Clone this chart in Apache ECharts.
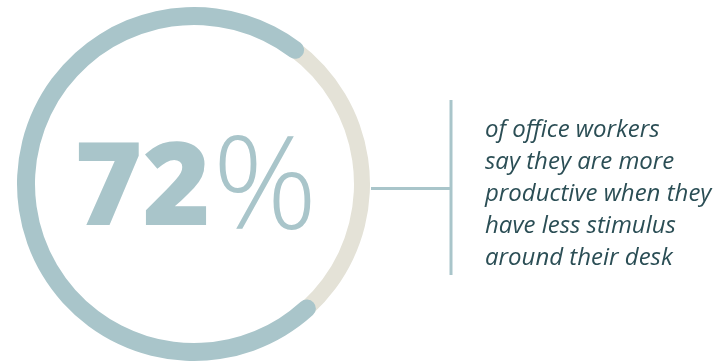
<!DOCTYPE html>
<html>
<head>
<meta charset="utf-8">
<script src="https://cdn.jsdelivr.net/npm/echarts@6/dist/echarts.min.js"></script>
<style>
  html, body { margin: 0; padding: 0; background: #ffffff; }
  #chart { width: 721px; height: 363px; }
</style>
</head>
<body>
<div id="chart"></div>
<script>
// Headline figure and its caption
const shareValues = [72];
const shareUnit = '%';
const captionLines = [
  'of office workers',
  'say they are more',
  'productive when they',
  'have less stimulus',
  'around their desk'
];

const RING_BLUE = '#a9c5ca';
const RING_SAND = '#e4e2d7';
const TEXT_DARK = '#2b4e55';

const ringCenter = [194, 184];
// Progress starts at lower right and runs clockwise round the left side
const START_ANGLE = 312.2;

const chart = echarts.init(document.getElementById('chart'), null, { renderer: 'canvas' });

const hidden = {
  splitLine: { show: false },
  axisTick: { show: false },
  axisLabel: { show: false },
  pointer: { show: false },
  anchor: { show: false },
  title: { show: false }
};

chart.setOption({
  animation: false,
  series: [
    Object.assign({
      type: 'gauge',
      center: ringCenter,
      radius: 176,
      startAngle: START_ANGLE,
      endAngle: START_ANGLE - 360,
      min: 0,
      max: 100,
      axisLine: { show: true, lineStyle: { width: 16, color: [[1, RING_SAND]] } },
      detail: { show: false },
      data: []
    }, hidden),
    Object.assign({
      type: 'gauge',
      center: ringCenter,
      radius: 177,
      startAngle: START_ANGLE,
      endAngle: START_ANGLE - 360,
      min: 0,
      max: 100,
      axisLine: { show: false },
      progress: { show: true, roundCap: true, width: 18, itemStyle: { color: RING_BLUE } },
      detail: {
        show: true,
        offsetCenter: [2, 8],
        valueAnimation: false,
        formatter: function (v) { return '{num|' + v + '}{unit|' + shareUnit + '}'; },
        rich: {
          num: { fontFamily: 'Open Sans', fontWeight: 800, fontSize: 116, color: RING_BLUE },
          unit: { fontFamily: 'Open Sans', fontWeight: 300, fontSize: 130, color: RING_BLUE, padding: [0, 0, 0, 2] }
        }
      },
      data: [{ value: shareValues[0] }]
    }, hidden)
  ],
  graphic: [
    {
      type: 'line',
      shape: { x1: 371, y1: 188.5, x2: 451, y2: 188.5 },
      style: { stroke: RING_BLUE, lineWidth: 3 }
    },
    {
      type: 'line',
      shape: { x1: 451, y1: 100, x2: 451, y2: 275 },
      style: { stroke: RING_BLUE, lineWidth: 3 }
    },
    {
      type: 'text',
      x: 485,
      y: 114,
      style: {
        text: captionLines.join('\n'),
        fontFamily: 'Open Sans',
        fontStyle: 'italic',
        fontWeight: 400,
        fontSize: 24,
        lineHeight: 32,
        fill: TEXT_DARK
      }
    }
  ]
});
</script>
</body>
</html>
